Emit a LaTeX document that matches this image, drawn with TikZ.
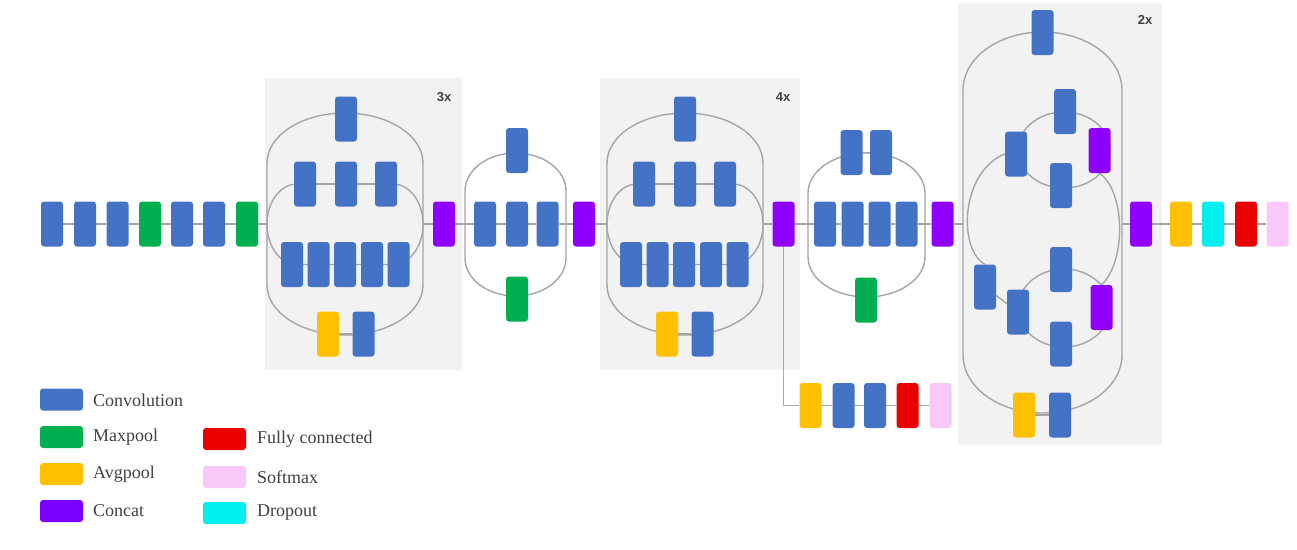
\documentclass[tikz,border=0pt]{standalone}
\usepackage{fontspec}
\setmainfont{Liberation Serif}
\newfontfamily\lblfont{Liberation Sans}
\definecolor{cconv}{RGB}{68,114,196}
\definecolor{cmax}{RGB}{0,176,80}
\definecolor{cavg}{RGB}{255,192,0}
\definecolor{ccat}{RGB}{143,0,255}
\definecolor{cfc}{RGB}{235,0,0}
\definecolor{csoft}{RGB}{248,200,248}
\definecolor{cdrop}{RGB}{0,240,240}
\definecolor{cbg}{RGB}{242,242,242}
\definecolor{cline}{RGB}{165,165,165}
\pgfdeclarelayer{bgg}
\pgfdeclarelayer{bg}
\pgfsetlayers{bgg,bg,main}
\tikzset{
  blk/.style={rectangle, rounded corners=3pt, minimum width=22pt, minimum height=45pt, inner sep=0pt, draw=none},
  conv/.style={blk, fill=cconv},
  maxp/.style={blk, fill=cmax},
  avgp/.style={blk, fill=cavg},
  cat/.style={blk, fill=ccat},
  fc/.style={blk, fill=cfc},
  soft/.style={blk, fill=csoft},
  drop/.style={blk, fill=cdrop},
  swatch/.style={rectangle, rounded corners=3pt, minimum width=43pt, minimum height=22pt, inner sep=0pt},
  conn/.style={draw=cline, line width=1.4pt},
  loopline/.style={draw=cline, line width=1.4pt},
  panel/.style={fill=cbg, draw=none},
  rep/.style={font=\lblfont\bfseries\fontsize{13}{15}\selectfont, text=black!75, inner sep=0pt},
  leg/.style={font=\fontsize{18}{20}\selectfont, text=black!75, anchor=west, inner sep=0pt}
}
% loop: x1, y1 (top), x2, y2 (bottom), rx, ry
\newcommand\mkloop[6]{%
  \draw[loopline] (#1,#2+#6) -- (#1,#4-#6)
   .. controls (#1,#4-#6+0.552*#6) and (#1+#5-0.552*#5,#4) .. (#1+#5,#4) -- (#3-#5,#4)
   .. controls (#3-#5+0.552*#5,#4) and (#3,#4-#6+0.552*#6) .. (#3,#4-#6) -- (#3,#2+#6)
   .. controls (#3,#2+#6-0.552*#6) and (#3-#5+0.552*#5,#2) .. (#3-#5,#2) -- (#1+#5,#2)
   .. controls (#1+#5-0.552*#5,#2) and (#1,#2+#6-0.552*#6) .. cycle;}
\begin{document}
\begin{tikzpicture}[x=1pt,y=-1pt]
\useasboundingbox (0,0) rectangle (1297,549);
% stem
\node[conv] (s1) at (52,224) {};
\node[conv] (s2) at (85,224) {};
\node[conv] (s3) at (117.5,224) {};
\node[maxp] (s4) at (150,224) {};
\node[conv] (s5) at (182,224) {};
\node[conv] (s6) at (214,224) {};
\node[maxp] (s7) at (247,224) {};
% module A
\coordinate (aL) at (267,224);
\coordinate (aR) at (423,224);
\node[conv] (a0) at (346,119) {};
\node[conv] (a21) at (305,184) {};
\node[conv] (a22) at (346,184) {};
\node[conv] (a23) at (386,184) {};
\node[conv] (a31) at (292,264.5) {};
\node[conv] (a32) at (318.5,264.5) {};
\node[conv] (a33) at (345,264.5) {};
\node[conv] (a34) at (372,264.5) {};
\node[conv] (a35) at (398.5,264.5) {};
\node[avgp] (a41) at (328,334) {};
\node[conv] (a42) at (363.5,334) {};
\node[rep] (r3) at (444,97) {3x};
\node[cat] (c1) at (444,224) {};
% module B
\coordinate (bL) at (465,224);
\coordinate (bR) at (566,224);
\node[conv] (b0) at (517,150.5) {};
\node[conv] (b1) at (485,224) {};
\node[conv] (b2) at (517,224) {};
\node[conv] (b3) at (547.5,224) {};
\node[maxp] (b4) at (517,299) {};
\node[cat] (c2) at (584,224) {};
% module C
\coordinate (mL) at (607,224);
\coordinate (mR) at (763,224);
\node[conv] (m0) at (685,119) {};
\node[conv] (m21) at (644,184) {};
\node[conv] (m22) at (685,184) {};
\node[conv] (m23) at (725,184) {};
\node[conv] (m31) at (631,264.5) {};
\node[conv] (m32) at (657.5,264.5) {};
\node[conv] (m33) at (684,264.5) {};
\node[conv] (m34) at (711,264.5) {};
\node[conv] (m35) at (737.5,264.5) {};
\node[avgp] (m41) at (667,334) {};
\node[conv] (m42) at (702.5,334) {};
\node[rep] (r4) at (783,97) {4x};
\node[cat] (c3) at (783.5,224) {};
% auxiliary head
\node[avgp] (x1) at (810.5,405.5) {};
\node[conv] (x2) at (843.5,405.5) {};
\node[conv] (x3) at (875,405.5) {};
\node[fc] (x4) at (907.5,405.5) {};
\node[soft] (x5) at (940.5,405.5) {};
% module D
\coordinate (dL) at (808,224);
\coordinate (dR) at (925,224);
\node[conv] (d01) at (851.5,152.5) {};
\node[conv] (d02) at (881,152.5) {};
\node[conv] (d1) at (825,224) {};
\node[conv] (d2) at (852.5,224) {};
\node[conv] (d3) at (879.5,224) {};
\node[conv] (d4) at (906.5,224) {};
\node[maxp] (d5) at (866,300) {};
\node[cat] (c4) at (942.5,224) {};
% module E
\coordinate (eL) at (963,224);
\coordinate (eR) at (1122,224);
\node[conv] (e0) at (1042.5,32.5) {};
\node[conv] (u1) at (1016,154) {};
\node[conv] (u2) at (1065,111.5) {};
\node[conv] (u3) at (1061,185.5) {};
\node[cat] (u4) at (1099.5,150.5) {};
\node[conv] (l1) at (985,287) {};
\node[conv] (l2) at (1018,312) {};
\node[conv] (l3) at (1061,269.5) {};
\node[conv] (l4) at (1061,344) {};
\node[cat] (l5) at (1101.5,307.5) {};
\node[avgp] (e5) at (1024,415) {};
\node[conv] (e6) at (1060,415) {};
\node[rep] (r2) at (1145,20) {2x};
\node[cat] (c5) at (1141,224) {};
% head
\node[avgp] (f1) at (1181,224) {};
\node[drop] (f2) at (1213,224) {};
\node[fc] (f3) at (1246,224) {};
\node[soft] (f4) at (1277.5,224) {};
% legend
\node[swatch, fill=cconv] (g1) at (61.5,399.5) {};
\node[leg] (t1) at (93,400) {Convolution};
\node[swatch, fill=cmax] (g2) at (61.5,437) {};
\node[leg] (t2) at (93,437) {Maxpool};
\node[swatch, fill=cavg] (g3) at (61.5,474) {};
\node[leg] (t3) at (93,474) {Avgpool};
\node[swatch, fill=ccat!85!blue] (g4) at (61.5,511) {};
\node[leg] (t4) at (93,511) {Concat};
\node[swatch, fill=cfc] (g5) at (224.5,439) {};
\node[leg] (t5) at (257,439) {Fully connected};
\node[swatch, fill=csoft] (g6) at (224.5,477) {};
\node[leg] (t6) at (257,477) {Softmax};
\node[swatch, fill=cdrop] (g7) at (224.5,513) {};
\node[leg] (t7) at (257,513) {Dropout};
% panels
\begin{pgfonlayer}{bgg}
\fill[panel] (265,78) rectangle (462,370);
\fill[panel] (600,78) rectangle (800,370);
\fill[panel] (958,3) rectangle (1162,445);
\end{pgfonlayer}
% connectors and loops
\begin{pgfonlayer}{bg}
\draw[conn] (s1) -- (s2) -- (s3) -- (s4) -- (s5) -- (s6) -- (s7) -- (aL);
\mkloop{267}{113}{423}{335}{78}{50}
\mkloop{267}{184}{423}{264.5}{30}{40}
\draw[conn] (a21) -- (a22) -- (a23);
\draw[conn] (a31) -- (a32) -- (a33) -- (a34) -- (a35);
\draw[conn] (a41) -- (a42);
\draw[conn] (aR) -- (c1) -- (bL) -- (b1) -- (b2) -- (b3) -- (bR) -- (c2) -- (mL);
\mkloop{465}{153}{566}{296}{50.5}{38}
\mkloop{607}{113}{763}{335}{78}{50}
\mkloop{607}{184}{763}{264.5}{30}{40}
\draw[conn] (m21) -- (m22) -- (m23);
\draw[conn] (m31) -- (m32) -- (m33) -- (m34) -- (m35);
\draw[conn] (m41) -- (m42);
\draw[conn] (mR) -- (c3) -- (dL) -- (d1) -- (d2) -- (d3) -- (d4) -- (dR) -- (c4) -- (eL);
\draw[conn] (c3) |- (x1);
\draw[conn] (x1) -- (x2) -- (x3) -- (x4) -- (x5);
\draw[conn] (d01) -- (d02);
\mkloop{808}{153}{925}{297}{58.5}{40}
\mkloop{963}{32}{1122}{413}{79.5}{58}
\mkloop{1018}{112}{1110}{188}{46}{38}
\mkloop{1018}{269}{1110}{347}{46}{39}
\draw[conn] (u1.west) .. controls (960,172) and (958,250) .. (l1.north);
\draw[conn] (u4.south) .. controls (1126,192) and (1126,262) .. (l5.north);
\draw[conn] (l1) -- (l2);
\draw[conn] (e5) -- (e6);
\draw[conn] (eR) -- (c5) -- (f1) -- (f2) -- (f3) -- (f4);
\end{pgfonlayer}
\end{tikzpicture}
\end{document}
